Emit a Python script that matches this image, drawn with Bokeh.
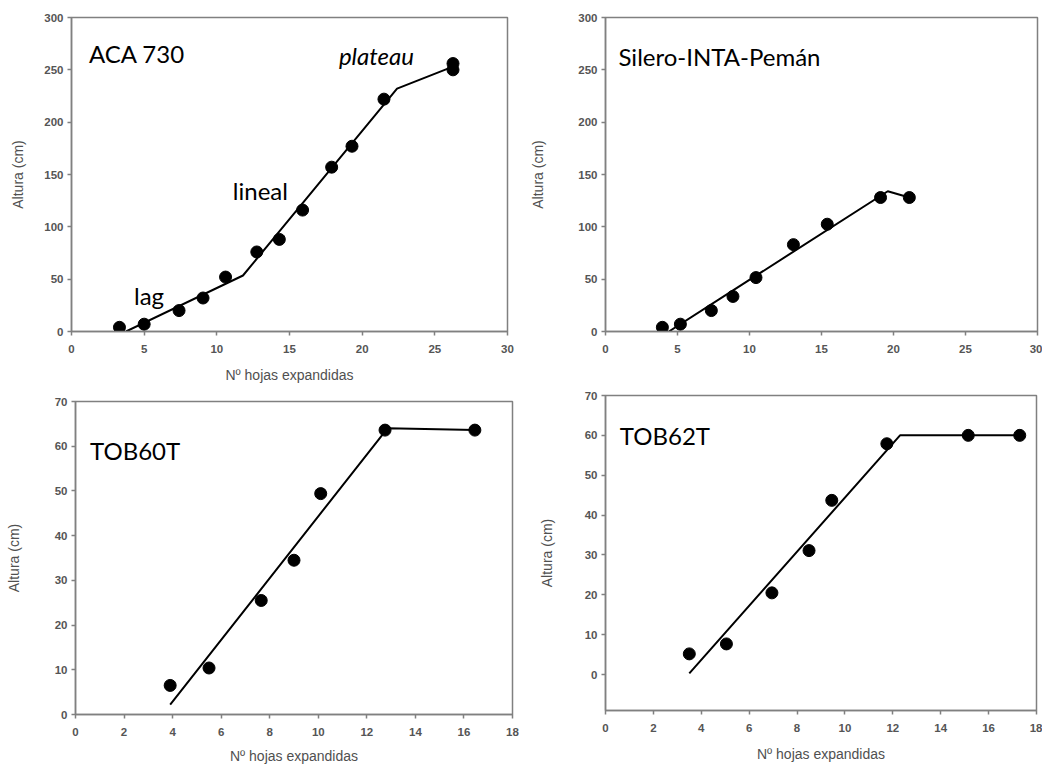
from bokeh.plotting import figure
from bokeh.layouts import column, row, Spacer
from bokeh.models import Range1d, FixedTicker, Label
from bokeh.embed import file_html
from bokeh.resources import INLINE

# ---------------- data ----------------
# ACA 730
aca_x = [3.3, 5.0, 7.4, 9.05, 10.6, 12.75, 14.3, 15.9, 17.9, 19.3, 21.5, 26.25, 26.25]
aca_y = [4, 7, 20, 32, 52, 76, 88, 116, 157, 177, 222, 256, 250]
aca_fit_x = [3.75, 11.8, 22.4, 26.25]
aca_fit_y = [0, 53.5, 232, 253]

# Silero-INTA-Pemán
sil_x = [3.95, 5.2, 7.35, 8.85, 10.45, 13.05, 15.4, 19.1, 21.1]
sil_y = [4, 7, 20, 33.5, 51.5, 83, 102.5, 128, 128]
sil_fit_x = [4.4, 19.6, 21.1]
sil_fit_y = [0, 134, 128]

# TOB60T
t60_x = [3.9, 5.5, 7.65, 9.0, 10.1, 12.75, 16.45]
t60_y = [6.5, 10.4, 25.5, 34.5, 49.4, 63.6, 63.6]
t60_fit_x = [3.9, 12.85, 16.45]
t60_fit_y = [2.2, 64.0, 63.6]

# TOB62T
t62_x = [3.5, 5.05, 6.95, 8.5, 9.45, 11.75, 15.15, 17.3]
t62_y = [5.2, 7.7, 20.5, 31.1, 43.7, 57.9, 60, 60]
t62_fit_x = [3.5, 12.3, 17.3]
t62_fit_y = [0.3, 60, 60]

x_ticks_top = [0, 5, 10, 15, 20, 25, 30]
y_ticks_top = [0, 50, 100, 150, 200, 250, 300]
x_ticks_bot = [0, 2, 4, 6, 8, 10, 12, 14, 16, 18]
y_ticks_bot = [0, 10, 20, 30, 40, 50, 60, 70]

XLABEL = "Nº hojas expandidas"
YLABEL = "Altura (cm)"

GRAY = "#808080"
TICKCOL = "#555555"


def panel(xr, yr, xt, yt, fw, fh, bl, br, bt, bb, xlabel, xstand, ystand):
    p = figure(frame_width=fw, frame_height=fh,
               min_border_left=bl, min_border_right=br,
               min_border_top=bt, min_border_bottom=bb,
               x_range=Range1d(*xr), y_range=Range1d(*yr),
               output_backend="svg", toolbar_location=None,
               background_fill_color="white", border_fill_color="white")
    p.grid.visible = False
    p.outline_line_color = GRAY
    p.outline_line_width = 1.5
    for ax, ticks in ((p.xaxis[0], xt), (p.yaxis[0], yt)):
        ax.ticker = FixedTicker(ticks=ticks)
        ax.minor_tick_line_color = None
        ax.major_tick_in = 0
        ax.major_tick_out = 4
        ax.major_tick_line_color = GRAY
        ax.major_tick_line_width = 1.5
        ax.axis_line_color = GRAY
        ax.axis_line_width = 1.5
        ax.major_label_text_font = "Liberation Sans"
        ax.major_label_text_font_size = "11.5px"
        ax.major_label_text_font_style = "bold"
        ax.major_label_text_color = TICKCOL
        ax.axis_label_text_font = "Liberation Sans"
        ax.axis_label_text_font_size = "14px"
        ax.axis_label_text_font_style = "normal"
        ax.axis_label_text_color = "#505050"
    p.xaxis.major_label_standoff = 9
    p.yaxis.major_label_standoff = 4
    if xlabel:
        p.xaxis.axis_label = XLABEL
        p.xaxis.axis_label_standoff = xstand
    p.yaxis.axis_label = YLABEL
    p.yaxis.axis_label_standoff = ystand
    return p


def add_series(p, fx, fy, px, py):
    p.line(fx, fy, line_color="black", line_width=2)
    p.scatter(px, py, size=12, fill_color="black", line_color="black")


def add_label(p, x, y, text, italic=False):
    p.add_layout(Label(x=x, y=y, text=text, text_font="Lato",
                       text_font_size="24px", text_color="black",
                       text_baseline="alphabetic",
                       text_font_style="italic" if italic else "normal"))


pa = panel((0, 30), (0, 300), x_ticks_top, y_ticks_top, 436, 314, 71, 15, 17, 54, True, 11, 15)
add_series(pa, aca_fit_x, aca_fit_y, aca_x, aca_y)
add_label(pa, 1.2, 266, "ACA 730")
add_label(pa, 18.4, 264, "plateau", italic=True)
add_label(pa, 11.1, 135, "lineal")
add_label(pa, 4.3, 34, "lag")

pb = panel((0, 30), (0, 300), x_ticks_top, y_ticks_top, 432, 314, 83, 5, 17, 54, False, 10, 29)
add_series(pb, sil_fit_x, sil_fit_y, sil_x, sil_y)
add_label(pb, 0.9, 263, "Silero-INTA-Pemán")

pc = panel((0, 18), (0, 70), x_ticks_bot, y_ticks_bot, 437, 313, 75, 18, 10, 50, True, 9, 30)
add_series(pc, t60_fit_x, t60_fit_y, t60_x, t60_y)
add_label(pc, 0.6, 59, "TOB60T")

pd_ = panel((0, 18), (-9, 70), x_ticks_bot, y_ticks_bot, 431, 315, 75, 6, 10, 54, True, 11, 27)
add_series(pd_, t62_fit_x, t62_fit_y, t62_x, t62_y)
add_label(pd_, 0.6, 60, "TOB62T")

layout = column(row(pa, pb), row(column(Spacer(height=6), pc), pd_))

open("out.html", "w").write(file_html(layout, INLINE))
